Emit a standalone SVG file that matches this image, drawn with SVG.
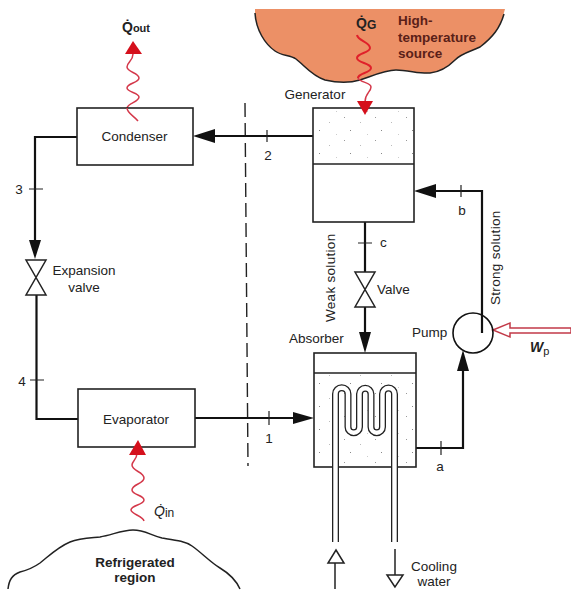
<svg xmlns="http://www.w3.org/2000/svg" width="571" height="590" viewBox="0 0 571 590">
<style>
text{font-family:"Liberation Sans",Arial,sans-serif;font-size:13.5px;fill:#222}
.c{text-anchor:middle}
.b{font-weight:bold}
.src{fill:#5a2018;font-weight:bold;font-size:13.5px}
.q{font-weight:bold;font-size:14px;fill:#222}
.box{fill:#fff;stroke:#222;stroke-width:1.6}
.pipe{fill:none;stroke:#111;stroke-width:2.2}
.tick{fill:none;stroke:#222;stroke-width:1.2}
.head{fill:#111;stroke:none}
.hollow{fill:#fff;stroke:#222;stroke-width:1.5}
.wave{fill:none;stroke:#d4384a;stroke-width:1.5}
.heat{fill:#d5101c;stroke:none}
.cloud{fill:none;stroke:#222;stroke-width:1.5}
</style>
<defs>
<pattern id="stip" width="31" height="23" patternUnits="userSpaceOnUse">
<rect x="3" y="2" width="1" height="1" fill="#999"/><rect x="19" y="7" width="1" height="1" fill="#bbb"/><rect x="9" y="15" width="1" height="1" fill="#888"/><rect x="26" y="19" width="1" height="1" fill="#ccc"/>
</pattern>
</defs>
<rect width="571" height="590" fill="#fff"/>

<g id="high-temperature-source">
<path d="M255 9H505L503 16C500 28 493 37 480 47C470 52 462 53 455 60C447 68 440 72 430 73C420 74 408 70 396 70C385 70 372 76 360 80C350 83 338 83 325 80C312 76 305 66 296 59C290 55 282 56 275 51C265 44 257 30 255 15Z" fill="#ec9066"/>
<path class="cloud" d="M255 13C256 30 265 44 275 51C282 56 290 55 296 59C305 66 312 76 325 80C338 83 350 83 360 80C372 76 385 70 396 70C408 70 420 74 430 73C440 72 447 68 455 60C462 53 470 52 480 47C493 37 500 28 504 14"/>
<text class="src" x="398" y="25">High-</text>
<text class="src" x="398" y="42">temperature</text>
<text class="src" x="398" y="58">source</text>
</g>

<g id="refrigerated-region">
<path class="cloud" d="M8 589C9 580 12 575 20 572C28 570 33 568 40 563C50 555 58 547 70 542C80 538 90 538 100 537C112 535 122 530 133 530C145 530 150 535 162 538C175 540 185 541 192 546C202 553 210 562 220 568C230 574 236 580 240 589"/>
<text class="c b" x="135" y="567">Refrigerated</text>
<text class="c b" x="135" y="582">region</text>
</g>

<g id="connectors">
<path d="M245 103L248 466" fill="none" stroke="#222" stroke-width="1.4" stroke-dasharray="14 6"/>
<path class="pipe" d="M77 137H35V242"/>
<path class="pipe" d="M36.500 295V419H78"/>
<path class="pipe" d="M215 136H313"/>
<path class="pipe" d="M195 418H295"/>
<path class="pipe" d="M365 222V272"/>
<path class="pipe" d="M365 307V335"/>
<path class="pipe" d="M416 448H463V368"/>
<path class="pipe" d="M432 191H482V333"/>
<path class="head" d="M193 136L215 129V143Z"/>
<path class="head" d="M35 259L29 240H41Z"/>
<path class="head" d="M314 418L293 412V424Z"/>
<path class="head" d="M414 191L436 184V198Z"/>
<path class="head" d="M365 353L359 332H371Z"/>
<path class="head" d="M463 350L457 371H469Z"/>
<path class="tick" d="M267 130V142M29 189H43M30 380H44M269 411V425M461 185V197M358 243H372M441 441V455"/>
<path class="hollow" d="M336 550L344 563H328Z"/>
<path d="M335 563V589" fill="none" stroke="#222" stroke-width="1.5"/>
<path d="M395 549V575" fill="none" stroke="#222" stroke-width="1.5"/>
<path class="hollow" d="M395 587L387 575H403Z"/>
<path fill="#fff" stroke="#c23a48" stroke-width="1.5" d="M493 330L510 323V328H571V333H510V337Z"/>
<path class="wave" d="M127 108C128 103 139 102 139 97C139 93 127 92 127 88C127 83 139 83 139 78C139 73 127 72 127 67C127 62 133 61 133 54"/>
<path class="heat" d="M133 41L142 54H125Z"/>
<path class="wave" d="M144 521C143 516 131 514 131 510C131 505 144 505 144 500C144 495 132 495 132 490C132 484 144 484 144 478C144 472 132 471 132 465C132 461 137 460 137 453"/>
<path fill="none" stroke="#e0202a" stroke-width="2" d="M357 35C358 41 370 42 370 48C370 53 357 53 357 58C357 63 371 63 371 68C371 73 358 73 358 78"/>
<path class="wave" d="M358 78C360 83 371 82 371 87C371 92 365 93 365 102"/>
</g>

<g id="condenser">
<rect class="box" x="77" y="108" width="116" height="57"/>
<path class="wave" d="M138 121C134 116 127 113 127 108"/>
<text class="c" x="134.500" y="141">Condenser</text>
</g>

<g id="evaporator">
<rect class="box" x="78" y="389" width="117" height="58"/>
<path class="heat" d="M138 440L146 455H129Z"/>
<text class="c" x="136" y="424">Evaporator</text>
</g>

<g id="generator">
<rect class="box" x="313" y="108" width="101" height="114"/>
<rect x="314" y="109" width="99" height="54" fill="url(#stip)"/>
<path d="M313 164H414" stroke="#222" stroke-width="1.6"/>
<path class="heat" d="M365 115L357 101H373Z"/>
<text class="c" x="315" y="99">Generator</text>
</g>

<g id="absorber">
<rect class="box" x="314" y="353" width="102" height="114"/>
<rect x="315" y="374" width="100" height="92" fill="url(#stip)"/>
<path d="M314 373H416" stroke="#222" stroke-width="1.4"/>
<path d="M335.500 542V394A6.200 6.200 0 0 1 348 394V427A5.700 5.700 0 0 0 359.500 427V394A5.700 5.700 0 0 1 371 394V427A5.700 5.700 0 0 0 382.500 427V394A6 6 0 0 1 394.500 394V542" fill="none" stroke="#222" stroke-width="7"/>
<path d="M335.500 543V394A6.200 6.200 0 0 1 348 394V427A5.700 5.700 0 0 0 359.500 427V394A5.700 5.700 0 0 1 371 394V427A5.700 5.700 0 0 0 382.500 427V394A6 6 0 0 1 394.500 394V543" fill="none" stroke="#fff" stroke-width="4.400"/>
<text x="289" y="343">Absorber</text>
</g>

<g id="pump">
<circle cx="473" cy="333" r="20" fill="none" stroke="#111" stroke-width="1.6"/>
<text x="412" y="337">Pump</text>
</g>

<g id="expansion-valve">
<path class="hollow" d="M26 260H46L26 295H46Z"/>
<text class="c" x="84" y="275">Expansion</text>
<text class="c" x="84" y="292">valve</text>
</g>

<g id="valve">
<path class="hollow" d="M355 272H375L355 307H375Z"/>
<text x="377" y="294">Valve</text>
</g>

<g id="labels">
<text class="c" x="19" y="194">3</text>
<text class="c" x="22" y="386">4</text>
<text class="c" x="268" y="160">2</text>
<text class="c" x="269" y="443">1</text>
<text class="c" x="462" y="215">b</text>
<text x="380" y="247">c</text>
<text class="c" x="440" y="471">a</text>
<text transform="translate(335 322) rotate(-90)" letter-spacing=".3">Weak solution</text>
<text transform="translate(500 305) rotate(-90)" letter-spacing=".3">Strong solution</text>
<text class="c" x="434" y="571">Cooling</text>
<text class="c" x="434" y="586">water</text>
<text class="q" x="122" y="32">Q̇<tspan font-size="11">out</tspan></text>
<text class="q" x="356" y="28">Q̇<tspan font-size="12" dy="1">G</tspan></text>
<text x="154" y="516" style="font-size:14px;font-style:italic">Q̇<tspan font-size="12" style="font-style:normal" dy="1">in</tspan></text>
<text class="q" x="530" y="352" font-style="italic">W<tspan font-size="11" font-style="normal" font-weight="normal" dy="3">p</tspan></text>
</g>
</svg>
